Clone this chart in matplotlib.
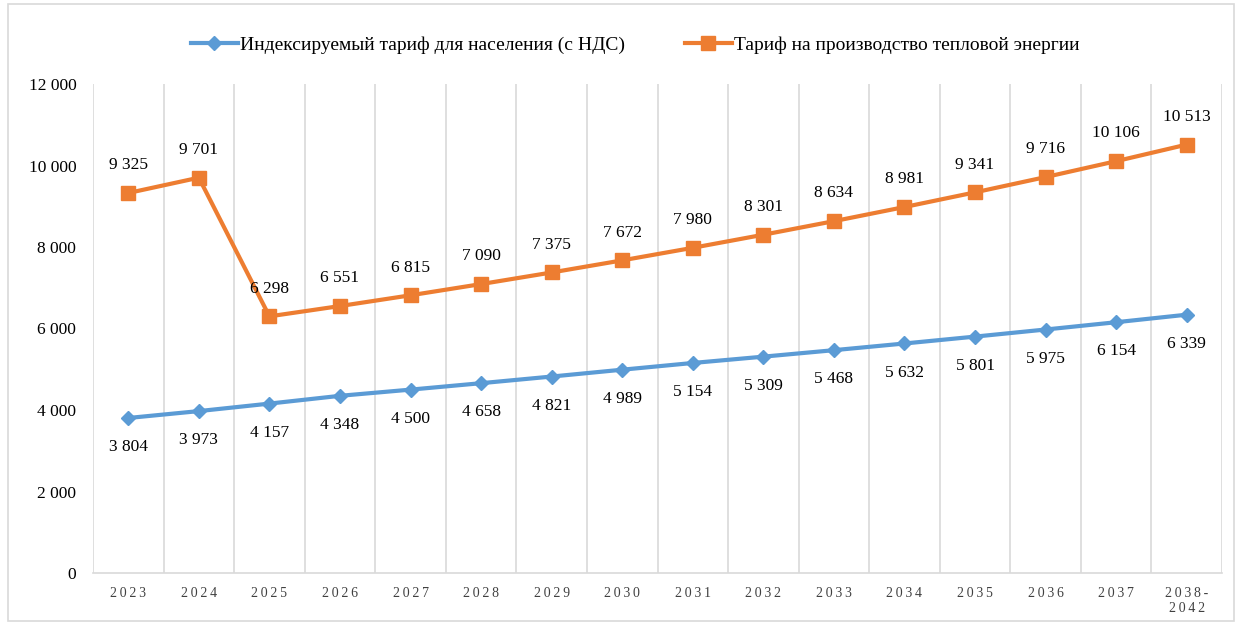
import matplotlib.pyplot as plt
from matplotlib.patches import Rectangle
import numpy as np

plt.rcParams['font.family'] = ['Liberation Serif', 'DejaVu Serif']

# data
years = ['2023', '2024', '2025', '2026', '2027', '2028', '2029', '2030',
         '2031', '2032', '2033', '2034', '2035', '2036', '2037', '2038-\n2042']
tariff_pop = [3804, 3973, 4157, 4348, 4500, 4658, 4821, 4989,
              5154, 5309, 5468, 5632, 5801, 5975, 6154, 6339]
tariff_heat = [9325, 9701, 6298, 6551, 6815, 7090, 7375, 7672,
               7980, 8301, 8634, 8981, 9341, 9716, 10106, 10513]
label_pop = 'Индексируемый тариф для населения (с НДС)'
label_heat = 'Тариф на производство тепловой энергии'

blue = '#5B9BD5'
orange = '#ED7D31'


def fmt(v):
    return f'{v:,.0f}'.replace(',', ' ')


def spaced(s):
    # emulate letter spacing of category labels
    return '\n'.join('\u2009'.join(line) for line in s.split('\n'))


fig = plt.figure(figsize=(12.42, 6.23), dpi=100)
ax = fig.add_axes([93 / 1242, 1 - 573 / 623, (1222 - 93) / 1242, (573 - 84) / 623])

x = np.arange(len(years))
ax.plot(x, tariff_pop, color=blue, lw=3, marker='D', ms=7, label=label_pop, zorder=3)
ax.plot(x, tariff_heat, color=orange, lw=3, marker='s', ms=10, label=label_heat, zorder=3)

for xi, v in zip(x, tariff_pop):
    ax.annotate(fmt(v), (xi, v), xytext=(0, -21), textcoords='offset points',
                ha='center', va='center', fontsize=12.5)
for xi, v in zip(x, tariff_heat):
    ax.annotate(fmt(v), (xi, v), xytext=(0, 20), textcoords='offset points',
                ha='center', va='center', fontsize=12.5)

ax.set_xlim(-0.5, len(years) - 0.5)
ax.set_ylim(0, 12000)
ax.set_yticks(np.arange(0, 12001, 2000))
ax.set_yticklabels([fmt(v) for v in np.arange(0, 12001, 2000)], fontsize=12.5)
ax.set_xticks(x)
ax.set_xticklabels([spaced(y) for y in years], fontsize=10, color='#404040')
ax.tick_params(axis='both', length=0)
ax.tick_params(axis='y', pad=12)
ax.tick_params(axis='x', pad=10)

# category separators
for b in np.arange(-0.5, len(years), 1.0):
    ax.axvline(b, color='#D9D9D9', lw=1.2, zorder=1)

for side in ['top', 'left', 'right']:
    ax.spines[side].set_visible(False)
ax.spines['bottom'].set_color('#D9D9D9')
ax.spines['bottom'].set_linewidth(1.2)

fig.legend(loc='center', bbox_to_anchor=(0.5 + 14 / 1242, 1 - 45 / 623), ncol=2, frameon=False,
           fontsize=14, handlelength=2.4, handletextpad=0.1, columnspacing=3.1)

fig.patches.append(Rectangle((8 / 1242, 2 / 623), 1226 / 1242, 617 / 623, transform=fig.transFigure,
                             fill=False, edgecolor='#D9D9D9', lw=1.2))

fig.savefig('out.png', dpi=100)
